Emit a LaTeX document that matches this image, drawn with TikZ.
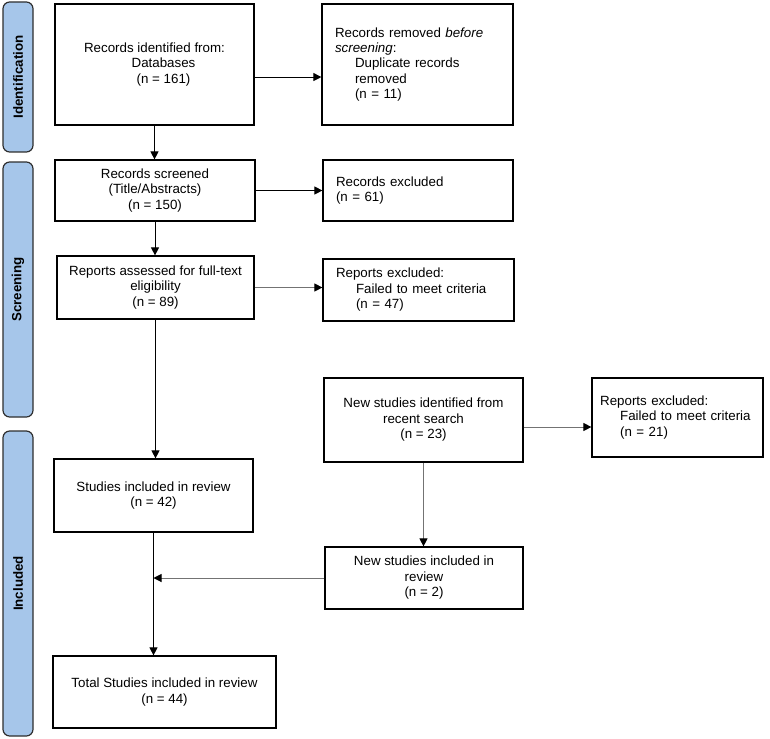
\documentclass[tikz,border=0pt]{standalone}
\usepackage{fontspec}
\setmainfont{Liberation Sans}
\usetikzlibrary{arrows.meta}
\definecolor{phasefill}{HTML}{A6C6EA}
\definecolor{phaseline}{HTML}{2E2E2E}

\begin{document}
\begin{tikzpicture}[x=0.75pt,y=-0.75pt,line width=0.75pt,
  >={Triangle[length=6pt,width=6pt,color=black]},
  font=\fontsize{10}{11.6}\selectfont,
  box/.style={draw,line width=0.9pt,inner sep=2pt,align=center},
  sidebox/.style={draw,line width=0.9pt,inner xsep=9.75pt,inner ysep=2pt,align=left},
  phase/.style={draw=phaseline,fill=phasefill,rounded corners=5pt,line width=0.9pt,
    rotate=90,minimum height=22.5pt,inner sep=0pt,font=\fontsize{10}{12}\selectfont\bfseries},
  flow/.style={->,draw=black},
  side flow/.style={->,draw=black!55}]
\useasboundingbox (0,0) rectangle (770,738);

% phases
\node[phase,minimum width=112.5pt] (idphase) at (18,77) {Identification};
\node[phase,minimum width=191.25pt] (scphase) at (18,289.5) {Screening};
\node[phase,minimum width=228.75pt] (inphase) at (18,583.5) {Included};

% main column
\node[box,minimum width=149.25pt,minimum height=90.75pt] (ident) at (154.5,64.5)
  {Records identified from:\\\hspace*{13.5pt}Databases\\\hspace*{13.5pt}(n = 161)};
\node[box,minimum width=150pt,minimum height=45.75pt] (screened) at (155,190.5)
  {Records screened\\(Title/Abstracts)\\(n = 150)};
\node[box,minimum width=147.75pt,minimum height=47.25pt] (assessed) at (155.5,287.5)
  {Reports assessed for full-text\\eligibility\\(n = 89)};
\node[box,minimum width=149.25pt,minimum height=54.75pt] (incl) at (153.5,495.5)
  {Studies included in review\\(n = 42)};
\node[box,minimum width=167.25pt,minimum height=54pt] (total) at (164.5,692)
  {Total Studies included in review\\(n = 44)};

% exclusions
\node[sidebox,text width=123.75pt,minimum height=90.75pt] (removed) at (417.5,64.5)
  {Records removed \textit{before}\\\textit{screening}:\\\hspace*{15pt}Duplicate records\\\hspace*{15pt}removed\\\hspace*{15pt}(n = 11)};
\node[sidebox,text width=123pt,minimum height=45.75pt] (excl61) at (418,190.5)
  {Records excluded\\(n = 61)};
\node[sidebox,text width=123.75pt,minimum height=46.5pt] (excl47) at (418.5,290)
  {Reports excluded:\\\hspace*{15pt}\mbox{Failed to meet criteria}\\\hspace*{15pt}(n = 47)};

% recent search
\node[box,minimum width=149.25pt,minimum height=63pt] (newid) at (423.5,420)
  {New studies identified from\\recent search\\(n = 23)};
\node[sidebox,text width=116pt,inner xsep=6.125pt,minimum height=59.25pt] (excl21) at (677.5,417.5)
  {Reports excluded:\\\hspace*{15pt}\mbox{Failed to meet criteria}\\\hspace*{15pt}(n = 21)};
\node[box,minimum width=148.5pt,minimum height=46.5pt] (newincl) at (424,578)
  {New studies included in\\review\\(n = 2)};

\draw[flow] (ident.south) -- (ident.south |- screened.north);
\draw[flow] ([yshift=-9.4pt]ident.east) -- ([yshift=-9.4pt]ident.east -| removed.west);
\draw[flow] (screened) -- (excl61);
\draw[flow] (screened.south) -- (screened.south |- assessed.north);
\draw[side flow] (assessed.east) -- (assessed.east -| excl47.west);
\draw[flow] (assessed.south) -- (assessed.south |- incl.north);
\draw[side flow] ([yshift=-5.25pt]newid.east) -- ([yshift=-5.25pt]newid.east -| excl21.west);
\draw[side flow] (newid.south) -- (newid.south |- newincl.north);
\draw[flow] (incl.south) -- (incl.south |- total.north);
\coordinate (join) at (incl.south |- newincl.west);
\draw[side flow] (newincl.west) -- (join);
\end{tikzpicture}
\end{document}
